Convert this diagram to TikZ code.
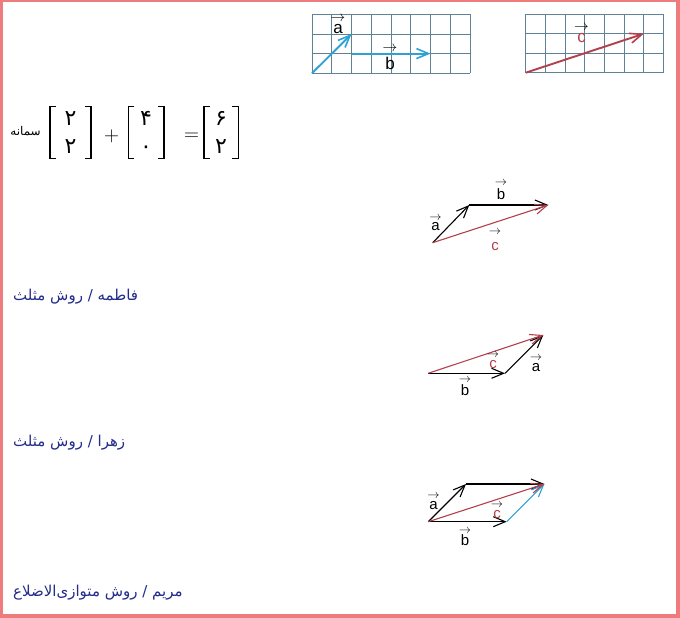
\documentclass[tikz,border=0pt]{standalone}
\usepackage{fontspec}
\setmainfont{Liberation Sans}
\newfontfamily\arabicfont[Script=Arabic]{DejaVu Sans}
\TeXXeTstate=1
\usetikzlibrary{arrows.meta}
\definecolor{pinkb}{HTML}{EE7C7C}
\definecolor{gridc}{HTML}{5F8297}
\definecolor{bluev}{HTML}{2CA2D4}
\definecolor{redv}{HTML}{B3404C}
\definecolor{navy}{HTML}{222C8A}
% letter with an arrow above it; #3 = height of the arrow above the baseline (pt)
\newcommand\vl[3][black]{\setbox0=\hbox{\textcolor{#1}{#2}}%
  \rlap{\hbox to\wd0{\hss\raisebox{\dimexpr#3pt-0.21em\relax}{\scalebox{0.85}{$\rightarrow$}}\hss}}\box0}
\newcommand\mybrackets[2]{%
  \draw[brk] ({#1+6},106.7) -- (#1,106.7) -- (#1,158.3) -- ({#1+6},158.3);
  \draw[brk] ({#2-6},106.7) -- (#2,106.7) -- (#2,158.3) -- ({#2-6},158.3);}
\begin{document}
\begin{tikzpicture}[x=1pt,y=-1pt,
  vec/.style={line width=1.1pt,-{Straight Barb[length=12pt,width=10pt]}},
  gvec/.style={line width=1.9pt,-{Straight Barb[length=12pt,width=10pt,line width=1.6pt]}},
  gline/.style={gridc,line width=0.9pt},
  vlab/.style={anchor=base,inner sep=0pt,font=\fontsize{15}{15}\selectfont},
  glab/.style={anchor=base,inner sep=0pt,font=\fontsize{17}{17}\selectfont},
  plab/.style={anchor=west,inner sep=0pt,text=navy,font=\arabicfont\fontsize{15}{18}\selectfont},
  brk/.style={line width=1.2pt},
  dig/.style={anchor=base,inner sep=0pt,font=\arabicfont\fontsize{22}{22}\selectfont},
  op/.style={inner sep=0pt,font=\fontsize{20}{20}\selectfont}]
\useasboundingbox (0,0) rectangle (680,618);
\fill[pinkb] (0,0) rectangle (680,618);
\fill[white] (3,2) rectangle (676,614);
% grid 1
\foreach \i in {0,...,8}{\pgfmathsetmacro\xx{312+\i*19.75}\draw[gline] (\xx,14.3) -- (\xx,73.3);}
\foreach \j in {0,...,3}{\pgfmathsetmacro\yy{14.3+\j*19.67}\draw[gline] (312,\yy) -- (470,\yy);}
\coordinate (g1o) at (312,73.3);
\coordinate (g1a) at (351.5,34);
\coordinate (g1s) at (351.5,53.6);
\coordinate (g1b) at (430.5,53.6);
\draw[gvec,bluev] (g1o) -- (g1a);
\draw[gvec,bluev] (g1s) -- (g1b);
\node[glab] (la1) at (338,33.3) {\vl{a}{15.6}};
\node[glab] (lb1) at (390,70) {\vl{b}{22.3}};
% grid 2
\foreach \i in {0,...,7}{\pgfmathsetmacro\xx{525.7+\i*19.7}\draw[gline] (\xx,14.3) -- (\xx,72.7);}
\foreach \j in {0,...,3}{\pgfmathsetmacro\yy{14.3+\j*19.47}\draw[gline] (525.7,\yy) -- (663.6,\yy);}
\coordinate (g2o) at (525.7,72.7);
\coordinate (g2c) at (643.8,33.7);
\draw[gvec,redv] (g2o) -- (g2c);
\node[glab] (lc2) at (581.5,43) {\vl[redv]{c}{16.5}};
% equation
\node[anchor=east,inner sep=0pt,font=\arabicfont\fontsize{12}{14}\selectfont] (samane) at (41,131) {\beginR سمانه\endR};
\mybrackets{50}{91}
\mybrackets{128.3}{164}
\mybrackets{204}{238.3}
\node[dig] (m11) at (70.5,125) {\beginR ۲\endR};
\node[dig] (m12) at (70.5,153) {\beginR ۲\endR};
\node[dig] (m21) at (146,125) {\beginR ۴\endR};
\node[dig] (m22) at (146,153) {\beginR ۰\endR};
\node[dig] (m31) at (221,125) {\beginR ۶\endR};
\node[dig] (m32) at (221,153) {\beginR ۲\endR};
\node[op] (plus) at (111.7,136.7) {$+$};
\node[op] (eq) at (191.7,136.7) {$=$};
% diagram 1
\coordinate (o1) at (432.7,242.7);
\coordinate (a1) at (469.3,205);
\coordinate (c1) at (548.3,205);
\draw[vec] (o1) -- (a1);
\draw[vec] (a1) -- (c1);
\draw[vec,redv] (o1) -- (c1);
\node[vlab] (la) at (435.5,230.7) {\vl{a}{13.8}};
\node[vlab] (lb) at (501,199.3) {\vl{b}{16.5}};
\node[vlab] (lc) at (495,250) {\vl[redv]{c}{18.3}};
\node[plab] (n1) at (13,297) {\beginR فاطمه / روش مثلث\endR};
% diagram 2
\coordinate (o2) at (428.3,373.3);
\coordinate (b2) at (505,373.3);
\coordinate (c2) at (543.3,335);
\draw[vec] (o2) -- (b2);
\draw[vec] (b2) -- (c2);
\draw[vec,redv] (o2) -- (c2);
\node[vlab] (lc2b) at (493,368.3) {\vl[redv]{c}{14.3}};
\node[vlab] (la2) at (536,371.7) {\vl{a}{14.2}};
\node[vlab] (lb2) at (465,395) {\vl{b}{16}};
\node[plab] (n2) at (13,443) {\beginR زهرا / روش مثلث\endR};
% diagram 3
\coordinate (o3) at (428.3,521.7);
\coordinate (a3) at (466,484);
\coordinate (b3) at (506.7,521.7);
\coordinate (c3) at (544.4,484);
\draw[vec] (o3) -- (a3);
\draw[vec] (a3) -- (c3);
\draw[vec] (o3) -- (b3);
\draw[vec,bluev] (b3) -- (c3);
\draw[vec,redv] (o3) -- (c3);
\node[vlab] (la3) at (433.5,509.3) {\vl{a}{14.2}};
\node[vlab] (lc3) at (497,518.3) {\vl[redv]{c}{14.3}};
\node[vlab] (lb3) at (465,545) {\vl{b}{15}};
\node[plab] (n3) at (13,593) {\beginR مریم / روش متوازی‌الاضلاع\endR};
\end{tikzpicture}
\end{document}
